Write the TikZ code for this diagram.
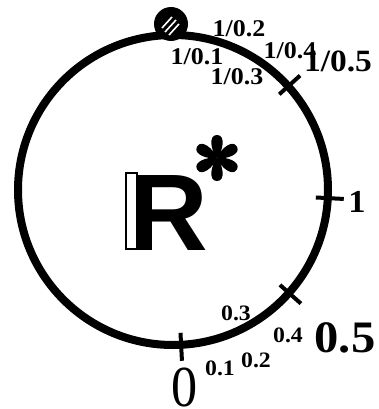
\documentclass[tikz,border=0pt]{standalone}
\usepackage{fontspec}
\setmainfont{Liberation Serif}[BoldFont={Liberation Serif Bold}]
\newfontfamily\rsans{Liberation Sans}[BoldFont={Liberation Sans Bold}]
\usetikzlibrary{calc}
\begin{document}
\begin{tikzpicture}[x=1pt,y=-1pt,
  lbl/.style={font=\bfseries\fontsize{#1}{#1}\selectfont, inner sep=0pt, xscale=1.08},
  tickline/.style={line width=4pt},
  ring/.style={line width=8pt},
  petal/.style={fill=black}]
\useasboundingbox (0,0) rectangle (379,409);
\coordinate (c) at (173,190);
\draw[ring] (c) circle[radius=155];
% ticks
\foreach \a/\n in {87/b, 3/r, 41.6/l, -42/u}{
  \coordinate (\n1) at ($(c)+(\a:143)$);
  \coordinate (\n2) at ($(c)+(\a:171)$);
  \draw[tickline] (\n1) -- (\n2);
}
% hatched disk
\node[circle, fill=black, minimum size=34pt, inner sep=0pt] (disk) at (171,24) {};
\draw[white, line width=1.6pt] ($(disk)+(-9,4)$) -- ($(disk)+(1,-7)$);
\draw[white, line width=1.6pt] ($(disk)+(-6,8)$) -- ($(disk)+(5,-4)$);
\draw[white, line width=1.6pt] ($(disk)+(-2,11)$) -- ($(disk)+(8,0)$);
% big labels
\node[inner sep=0pt, font=\fontsize{58}{58}\selectfont, xscale=0.9] (z) at (185,387) {0};
\node[lbl=45] (h) at (345,338) {0.5};
\node[lbl=32] (o) at (357,202) {1};
% small labels
\node[lbl=22] (a1) at (220,368) {0.1};
\node[lbl=22] (a2) at (256,360) {0.2};
\node[lbl=22] (a3) at (236,313) {0.3};
\node[lbl=22] (a4) at (288,335) {0.4};
\node[lbl=24] (b2) at (239,29) {1/0.2};
\node[lbl=24] (b1) at (197,57) {1/0.1};
\node[lbl=24] (b3) at (237,77) {1/0.3};
\node[lbl=24] (b4) at (290,51) {1/0.4};
\node[lbl=31] (b5) at (338,61) {1/0.5};
% R*
\draw[line width=2pt] (126,173) rectangle (137,249);
\node[inner sep=0pt, anchor=base west, font=\rsans\bfseries\fontsize{109}{109}\selectfont] (R) at (129,250) {R};
\coordinate (s) at (217,158);
\foreach \a in {90,30,-30,-90,-150,150}{
  \fill[petal, shift={(s)}, rotate=\a] (0,0) .. controls (7,-6) and (23,-9) .. (23,0) .. controls (23,9) and (7,6) .. (0,0) -- cycle;
}
\end{tikzpicture}
\end{document}
